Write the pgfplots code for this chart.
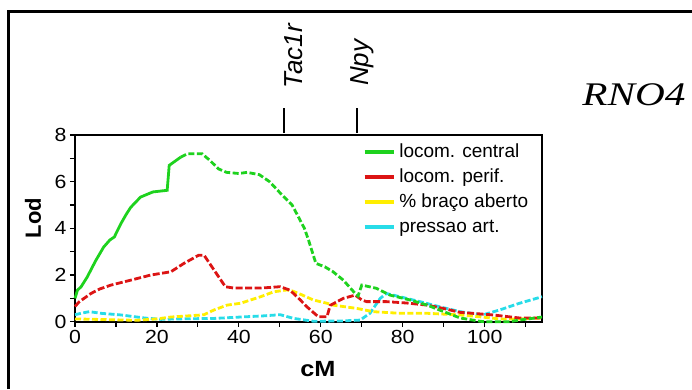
\documentclass[border=0pt]{standalone}
\usepackage{fontspec}
\setmainfont{Liberation Sans}
\newfontfamily\ticksans{Liberation Sans}[FakeStretch=1.12]
\newfontfamily\labsans{Liberation Sans}[FakeStretch=1.15]
\newfontfamily\rotsans{Liberation Sans}
\newfontfamily\rnofont{Liberation Serif}[FakeStretch=1.25]
\usepackage{pgfplots}
\pgfplotsset{compat=1.18}
\definecolor{cgreen}{RGB}{30,210,30}
\definecolor{cred}{RGB}{220,20,20}
\definecolor{cyellow}{RGB}{255,238,0}
\definecolor{ccyan}{RGB}{40,220,232}
\begin{document}
\begin{tikzpicture}
\useasboundingbox (0,0) rectangle (692pt,389pt);
\draw[line width=3pt] (8pt,0pt) -- (8pt,377pt) -- (692pt,377pt);
\node[font=\rnofont\itshape\fontsize{33}{36}\selectfont, anchor=center, inner sep=0pt] at (634pt,294pt) {RNO4};
\begin{axis}[
  at={(75pt,67.3pt)}, anchor=south west,
  width=467pt, height=186.7pt, scale only axis,
  xmin=0, xmax=114, ymin=0, ymax=8,
  xtick={0,20,...,100}, minor xtick={10,30,...,110},
  ytick={0,2,...,8}, minor ytick={1,3,5,7},
  xtick pos=bottom, ytick pos=left,
  tick align=outside, major tick length=5pt, minor tick length=5pt,
  tick style={black, line width=1.2pt},
  axis line style={line width=2pt},
  /pgf/number format/assume math mode=true,
  ticklabel style={font=\ticksans\fontsize{19}{21}\selectfont},
  xlabel={cM}, ylabel={Lod},
  xlabel style={font=\labsans\bfseries\fontsize{22}{24}\selectfont, at={(axis description cs:0.52,-0.253)}, anchor=center},
  ylabel style={font=\rotsans\bfseries\fontsize{22}{24}\selectfont, at={(axis description cs:-0.0897,0.555)}, anchor=center},
  clip=false,
  legend image code/.code={\draw[#1, line width=3.5pt] (0pt,0pt) -- (29pt,0pt);},
  legend style={at={(axis cs:70.2,7.68)}, anchor=north west, draw=none, fill=none,
    font=\fontsize{19}{21}\selectfont, row sep=6pt, column sep=3pt, inner sep=0pt,
    nodes={inner sep=1pt, text height=13.5pt, text depth=3.5pt}},
  legend cell align=left,
]
\addlegendimage{cgreen}
\addlegendentry{locom. central}
\addlegendimage{cred}
\addlegendentry{locom. perif.}
\addlegendimage{cyellow}
\addlegendentry{\% braço aberto}
\addlegendimage{ccyan}
\addlegendentry{pressao art.}

% pressao art.
\addplot[ccyan, line width=2.8pt, dash pattern=on 6pt off 2.5pt, forget plot] coordinates {
(0,0.3) (2,0.38) (3.5,0.43) (6.3,0.36) (11.2,0.29) (16.9,0.16) (21,0.1) (25,0.12) (33.9,0.14) (40.4,0.2) (46,0.25) (50.1,0.3) (53.4,0.14) (58.2,0.02) (65,0.03) (69.6,0.07) (72,0.36) (74.5,1.0) (76,1.21) (79.3,1.07) (84.2,0.86) (89,0.64) (94,0.43) (99.5,0.29) (103.6,0.5) (108.5,0.79) (114,1.07)};
% braco aberto
\addplot[cyellow, line width=2.8pt, dash pattern=on 6pt off 2.5pt, forget plot] coordinates {
(0,0.12) (5,0.1) (10,0.08) (15,0.06) (20,0.12) (23.4,0.2) (30.2,0.28) (31.5,0.3) (33.9,0.5) (37.1,0.71) (40.4,0.79) (45.3,1.07) (48.5,1.28) (51.7,1.36) (53,1.32) (55,1.18) (58.2,0.93) (61.5,0.79) (63,0.71) (68.8,0.57) (72.8,0.43) (79.3,0.36) (86,0.36) (94,0.29) (98.8,0.21) (103.6,0.12) (108.5,0.12) (114,0.16)};
% locom perif
\addplot[cred, line width=2.8pt, dash pattern=on 7pt off 2.5pt, forget plot] coordinates {
(0,0.65) (1,0.85) (3.9,1.21) (6,1.4) (8.8,1.57) (13.6,1.78) (18.5,2.0) (23.4,2.14) (26.6,2.5) (30.2,2.85) (31.5,2.85) (34,2.2) (36.7,1.5) (38.8,1.44) (45.3,1.44) (50.1,1.5) (52.5,1.35) (55,0.93) (56.6,0.64) (59.4,0.21) (61.5,0.21) (62.3,0.7) (65.5,1.0) (68.4,1.14) (70,0.93) (71.2,0.86) (76,0.86) (81,0.8) (86,0.71) (89.9,0.57) (94,0.4) (97,0.36) (102,0.29) (108.5,0.16) (114,0.16)};
% locom central
\addplot[cgreen, line width=2.8pt, solid, forget plot] coordinates {
(0,1.0) (0.6,1.35) (1.5,1.5) (3,1.92) (5,2.6) (7,3.2) (8.5,3.5) (9.6,3.63) (11.2,4.2) (12.5,4.6) (13.6,4.9) (16,5.34) (19,5.56) (22.5,5.63) (23,6.7) (25.8,7.05)};
\addplot[cgreen, line width=2.8pt, dash pattern=on 6pt off 2.5pt, forget plot] coordinates {
(25.8,7.05) (27.5,7.2) (31,7.2) (33,6.9) (35,6.55) (37,6.4) (40,6.35) (42,6.4) (45,6.3) (47.5,6.0) (50.7,5.4) (53,5.0) (56,4.0) (57,3.5) (58.8,2.5) (61,2.35) (63,2.14) (65.5,1.78) (68.4,1.21) (69.1,1.1) (70,1.57) (73.6,1.43) (76.9,1.14) (81.8,0.93) (86,0.71) (89,0.5) (94,0.16) (98.8,0.02) (100,0) (106,0) (108.5,0.07) (114,0.2)};

% marker annotations
\draw[line width=1.5pt] (axis cs:51,8.1) -- (axis cs:51,9.17);
\draw[line width=1.5pt] (axis cs:68.8,8.1) -- (axis cs:68.8,9.17);
\node[rotate=90, anchor=west, inner sep=0pt, font=\rotsans\itshape\fontsize{26}{28}\selectfont] at (axis cs:53.4,10.0) {Tac1r};
\node[rotate=90, anchor=west, inner sep=0pt, font=\rotsans\itshape\fontsize{26}{28}\selectfont] at (axis cs:70.1,10.1) {Npy};
\end{axis}
\end{tikzpicture}
\end{document}
